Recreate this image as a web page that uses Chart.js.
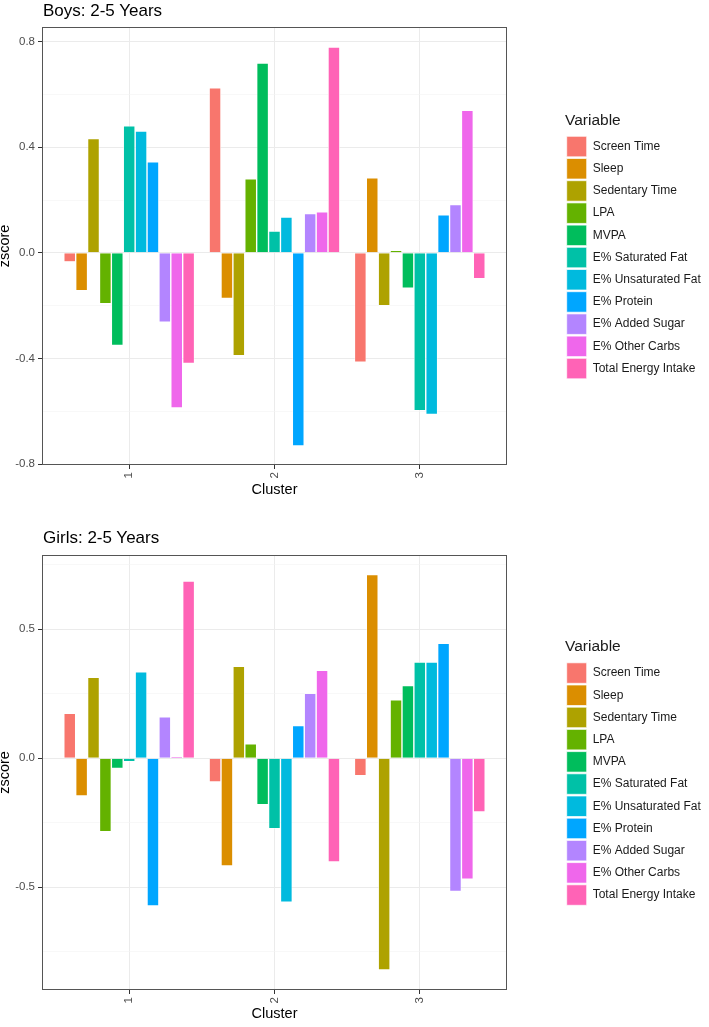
<!DOCTYPE html>
<html>
<head>
<meta charset="utf-8">
<script src="https://cdn.jsdelivr.net/npm/chart.js@4.4.1/dist/chart.umd.min.js"></script>
<style>
html, body { margin: 0; padding: 0; background: #ffffff; }
body { width: 709px; height: 1027px; position: relative; overflow: hidden; font-family: "Liberation Sans", Arial, sans-serif; }
canvas { position: absolute; left: 0; }
.ttl { position: absolute; left: 43px; font-size: 17px; line-height: 19px; color: #000; white-space: nowrap; z-index: 2; }
</style>
</head>
<body>
<canvas id="boys" width="709" height="505" style="top:0px"></canvas>
<canvas id="girls" width="709" height="517" style="top:510px"></canvas>
<div class="ttl" style="top:1px">Boys: 2-5 Years</div>
<div class="ttl" style="top:528px">Girls: 2-5 Years</div>
<script>
// ---- data ----
const variables = ['Screen Time', 'Sleep', 'Sedentary Time', 'LPA', 'MVPA', 'E% Saturated Fat',
  'E% Unsaturated Fat', 'E% Protein', 'E% Added Sugar', 'E% Other Carbs', 'Total Energy Intake'];
const clusters = [1, 2, 3];
const boysCluster1 = [-0.034, -0.143, 0.433, -0.192, -0.350, 0.481, 0.461, 0.345, -0.262, -0.587, -0.419];
const boysCluster2 = [0.625, -0.173, -0.389, 0.280, 0.719, 0.083, 0.136, -0.731, 0.149, 0.155, 0.779];
const boysCluster3 = [-0.414, 0.284, -0.200, 0.010, -0.134, -0.597, -0.612, 0.144, 0.183, 0.540, -0.098];
const girlsCluster1 = [0.174, -0.146, 0.314, -0.284, -0.039, -0.013, 0.335, -0.572, 0.161, 0.008, 0.687];
const girlsCluster2 = [-0.092, -0.417, 0.357, 0.056, -0.180, -0.273, -0.558, 0.127, 0.252, 0.341, -0.402];
const girlsCluster3 = [-0.067, 0.712, -0.820, 0.227, 0.282, 0.373, 0.373, 0.446, -0.516, -0.469, -0.208];
const boysYTicks = [-0.8, -0.6, -0.4, -0.2, 0, 0.2, 0.4, 0.6, 0.8];
const boysYLabels = [-0.8, -0.4, 0, 0.4, 0.8];
const girlsYTicks = [-0.75, -0.5, -0.25, 0, 0.25, 0.5, 0.75];
const girlsYLabels = [-0.5, 0, 0.5];

// ---- styles ----
const colors = ['#F8766D', '#DB8E00', '#AEA200', '#64B200', '#00BD5C', '#00C1A7',
  '#00BADE', '#00A6FF', '#B385FF', '#EF67EB', '#FF63B6'];
const FONT = '"Liberation Sans", Arial, sans-serif';

const panelBorder = {
  id: 'panelBorder',
  afterDatasetsDraw(chart) {
    const { ctx, chartArea: a } = chart;
    ctx.save();
    ctx.strokeStyle = '#555555';
    ctx.lineWidth = 1;
    ctx.strokeRect(Math.round(a.left) + 0.5, Math.round(a.top) + 0.5,
      Math.round(a.right) - Math.round(a.left) - 1, Math.round(a.bottom) - Math.round(a.top) - 1);
    ctx.restore();
  }
};

// reserves a fixed-width legend column, with an empty gap between the panel and the legend
const legendGap = {
  id: 'legendGap',
  afterInit(chart, args, opts) {
    const lg = chart.legend;
    if (!lg || lg._gapPatched) return;
    lg._gapPatched = true;
    const gap = opts.gap || 0;
    const boxW = opts.width;
    const fit = lg.fit;
    lg.fit = function () { fit.call(this); this.width = boxW; };
    const draw = lg.draw;
    lg.draw = function () {
      this.left += gap; this.width -= gap;
      draw.call(this);
      this.left -= gap; this.width += gap;
    };
  }
};

function makeChart(id, clusterValues, yMin, yMax, yTicks, yLabels, padTop, xAxisHeight, xTitlePad) {
  const isMajor = v => yLabels.includes(v);
  const datasets = variables.map((name, i) => ({
    label: name,
    data: clusters.map((c, j) => ({ x: c, y: clusterValues[j][i] })),
    backgroundColor: colors[i],
    borderColor: '#ffffff',
    borderWidth: 0.7
  }));
  return new Chart(document.getElementById(id), {
    type: 'bar',
    data: { datasets },
    plugins: [panelBorder, legendGap],
    options: {
      responsive: false,
      animation: false,
      events: [],
      layout: { padding: { top: padTop, right: 6, bottom: 0, left: 0 } },
      datasets: { bar: { categoryPercentage: 0.9, barPercentage: 1 } },
      plugins: {
        legendGap: { gap: 58, width: 196 },
        tooltip: { enabled: false },
        title: { display: false },
        legend: {
          position: 'right',
          fullSize: false,
          align: 'center',
          title: {
            display: true, text: 'Variable', position: 'start', color: '#1a1a1a',
            font: { size: 15.5, family: FONT }, padding: { top: 1.2, bottom: 3.3 }
          },
          labels: {
            boxWidth: 20, boxHeight: 20.5, padding: 1.7, color: '#1a1a1a',
            font: { size: 12, family: FONT }
          }
        }
      },
      scales: {
        x: {
          type: 'linear', position: 'bottom', min: 0.4, max: 3.6, offset: false,
          afterBuildTicks: s => { s.ticks = clusters.map(v => ({ value: v })); },
          afterFit: s => { s.height = xAxisHeight; },
          grid: { offset: false, color: '#ebebeb', lineWidth: 1, tickLength: 4, tickColor: '#333333' },
          border: { display: false },
          ticks: {
            autoSkip: false, minRotation: 90, maxRotation: 90, padding: 3, color: '#4d4d4d',
            font: { size: 11.5, family: FONT }, callback: v => String(v)
          },
          title: {
            display: true, text: 'Cluster', color: '#000000',
            font: { size: 14.5, family: FONT, lineHeight: 1 }, padding: { top: 0, bottom: xTitlePad }
          }
        },
        y: {
          type: 'linear', position: 'left', min: yMin, max: yMax,
          afterBuildTicks: s => { s.ticks = yTicks.map(v => ({ value: v })); },
          afterFit: s => { s.width = 42; },
          grid: {
            color: c => (c.tick && isMajor(c.tick.value)) ? '#ebebeb' : '#f3f3f3',
            lineWidth: c => (c.tick && isMajor(c.tick.value)) ? 1 : 0.6,
            tickLength: 4,
            tickColor: c => (c.tick && isMajor(c.tick.value)) ? '#333333' : 'rgba(0,0,0,0)'
          },
          border: { display: false },
          ticks: {
            autoSkip: false, padding: 3, color: '#4d4d4d', font: { size: 11.5, family: FONT },
            callback: v => isMajor(v) ? v.toFixed(1) : ''
          },
          title: {
            display: true, text: 'zscore', color: '#000000',
            font: { size: 14.5, family: FONT, lineHeight: 0.65 }, padding: { top: 0, bottom: 0 }
          }
        }
      }
    }
  });
}

makeChart('boys', [boysCluster1, boysCluster2, boysCluster3], -0.803, 0.855, boysYTicks, boysYLabels, 27, 40, 7.75);
makeChart('girls', [girlsCluster1, girlsCluster2, girlsCluster3], -0.898, 0.788, girlsYTicks, girlsYLabels, 45, 37, 6.25);
</script>
</body>
</html>
